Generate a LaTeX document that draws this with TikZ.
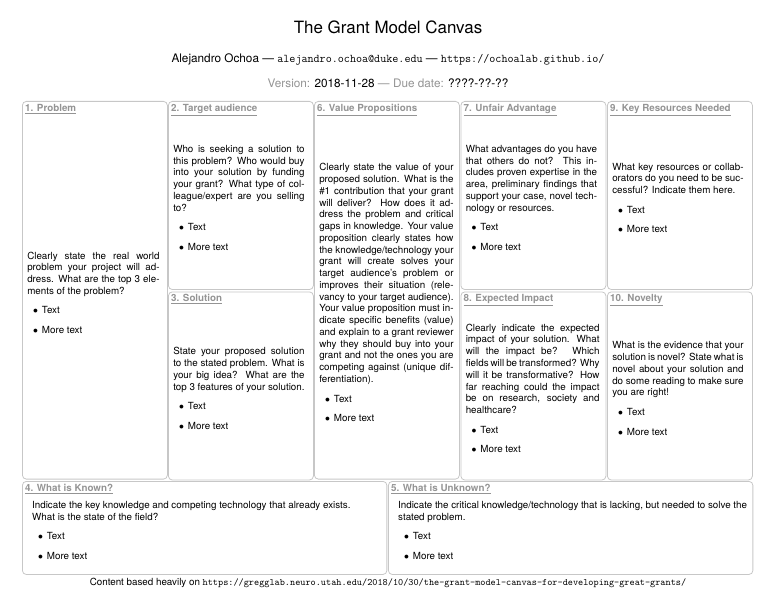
\documentclass[tikz,border=0pt]{standalone}
\usepackage{fontspec}
\setmainfont{TeX Gyre Heros}
\usetikzlibrary{positioning}

\definecolor{framegray}{gray}{0.78}
\definecolor{labelgray}{gray}{0.58}

\hyphenation{ele-ments}
\setlength{\leftmargini}{15pt}
\setlength{\labelsep}{4pt}
\renewcommand{\labelitemi}{$\bullet$}
\newcommand{\textitems}{\begin{itemize}\item Text \item More text\end{itemize}}

\begin{document}
\begin{tikzpicture}[x=1.0206pt, y=-1.0206pt,
  cell/.style={draw=framegray, line width=0.8pt, rounded corners=4pt, anchor=north west, inner sep=0pt},
  tall/.style={cell, minimum width=148pt, minimum height=385.5pt},
  half/.style={cell, minimum width=148pt, minimum height=192pt},
  wide/.style={cell, minimum width=372pt, minimum height=95pt},
  head/.style={anchor=north west, inner sep=1pt, text=labelgray, font=\bfseries},
  body/.style={text width=134pt, align=justify, inner sep=0pt, xshift=-2pt, yshift=-2.5pt},
  widebody/.style={text width=356pt, align=justify, inner sep=0pt, anchor=north west}]

\useasboundingbox (0,0) rectangle (776,600);

% Kopf
\node (title) at (388,27) {\LARGE The Grant Model Canvas};
\node (author) at (388,59) {\large Alejandro Ochoa --- \texttt{alejandro.ochoa@duke.edu} --- \texttt{https://ochoalab.github.io/}};
\node (version) at (388,83) {\large\textcolor{labelgray}{Version:} 2018-11-28 \textcolor{labelgray}{--- Due date:} ????-??-??};

% Felder oben
\node[tall] (problem) at (22,101) {};
\node[half] (audience) at (168,101) {};
\node[half] (solution) at (168,291.5) {};
\node[tall] (value) at (314,101) {};
\node[half] (advantage) at (460.5,101) {};
\node[half] (impact) at (460.5,291.5) {};
\node[half] (resources) at (607,101) {};
\node[half] (novelty) at (607,291.5) {};

% Felder unten
\node[wide] (known) at (22,481) {};
\node[wide] (unknown) at (388,481) {};

% Titel der Felder
\node[head] (problemhead) at ([shift={(2,2)}]problem.north west) {\underline{1. Problem}};
\node[head] (audiencehead) at ([shift={(2,2)}]audience.north west) {\underline{2. Target audience}};
\node[head] (solutionhead) at ([shift={(2,2)}]solution.north west) {\underline{3. Solution}};
\node[head] (knownhead) at ([shift={(2,2)}]known.north west) {\underline{4. What is Known?}};
\node[head] (unknownhead) at ([shift={(2,2)}]unknown.north west) {\underline{5. What is Unknown?}};
\node[head] (valuehead) at ([shift={(2,2)}]value.north west) {\underline{6. Value Propositions}};
\node[head] (advantagehead) at ([shift={(2,2)}]advantage.north west) {\underline{7. Unfair Advantage}};
\node[head] (impacthead) at ([shift={(2,2)}]impact.north west) {\underline{8. Expected Impact}};
\node[head] (resourceshead) at ([shift={(2,2)}]resources.north west) {\underline{9. Key Resources Needed}};
\node[head] (noveltyhead) at ([shift={(2,2)}]novelty.north west) {\underline{10. Novelty}};

% Inhalt
\node[body, text width=135pt, xshift=0.5pt] (problemtext) at (problem.center) {Clearly state the real world problem your project will address. What are the top 3 elements of the problem? \textitems};
\node[body] (audiencetext) at (audience.center) {Who is seeking a solution to this problem? Who would buy into your solution by funding your grant? What type of colleague/expert are you selling to? \textitems};
\node[body] (solutiontext) at (solution.center) {State your proposed solution to the stated problem. What is your big idea? What are the top 3 features of your solution. \textitems};
\node[body, text width=137pt, xshift=1.5pt] (valuetext) at (value.center) {Clearly state the value of your proposed solution. What is the \#1 contribution that your grant will deliver? How does it address the problem and critical gaps in knowledge. Your value proposition clearly states how the knowledge/technology your grant will create solves your target audience's problem or improves their situation (relevancy to your target audience). Your value proposition must indicate specific benefits (value) and explain to a grant reviewer why they should buy into your grant and not the ones you are competing against (unique differentiation). \textitems};
\node[body] (advantagetext) at (advantage.center) {What advantages do you have that others do not? This includes proven expertise in the area, preliminary findings that support your case, novel technology or resources. \textitems};
\node[body, text width=136.5pt, xshift=1.25pt] (impacttext) at (impact.center) {Clearly indicate the expected impact of your solution. What will the impact be? Which fields will be transformed? Why will it be transformative? How far reaching could the impact be on research, society and healthcare? \textitems};
\node[body] (resourcestext) at (resources.center) {What key resources or collaborators do you need to be successful? Indicate them here. \textitems};
\node[body] (noveltytext) at (novelty.center) {What is the evidence that your solution is novel? State what is novel about your solution and do some reading to make sure you are right! \textitems};
\node[widebody] (knowntext) at ([shift={(10,20)}]known.north west) {Indicate the key knowledge and competing technology that already exists.\\ What is the state of the field? \textitems};
\node[widebody] (unknowntext) at ([shift={(10,20)}]unknown.north west) {Indicate the critical knowledge/technology that is lacking, but needed to solve the stated problem. \textitems};

% Quelle
\node (source) at (388,583) {Content based heavily on \texttt{https://gregglab.neuro.utah.edu/2018/10/30/the-grant-model-canvas-for-developing-great-grants/}};

\end{tikzpicture}
\end{document}
